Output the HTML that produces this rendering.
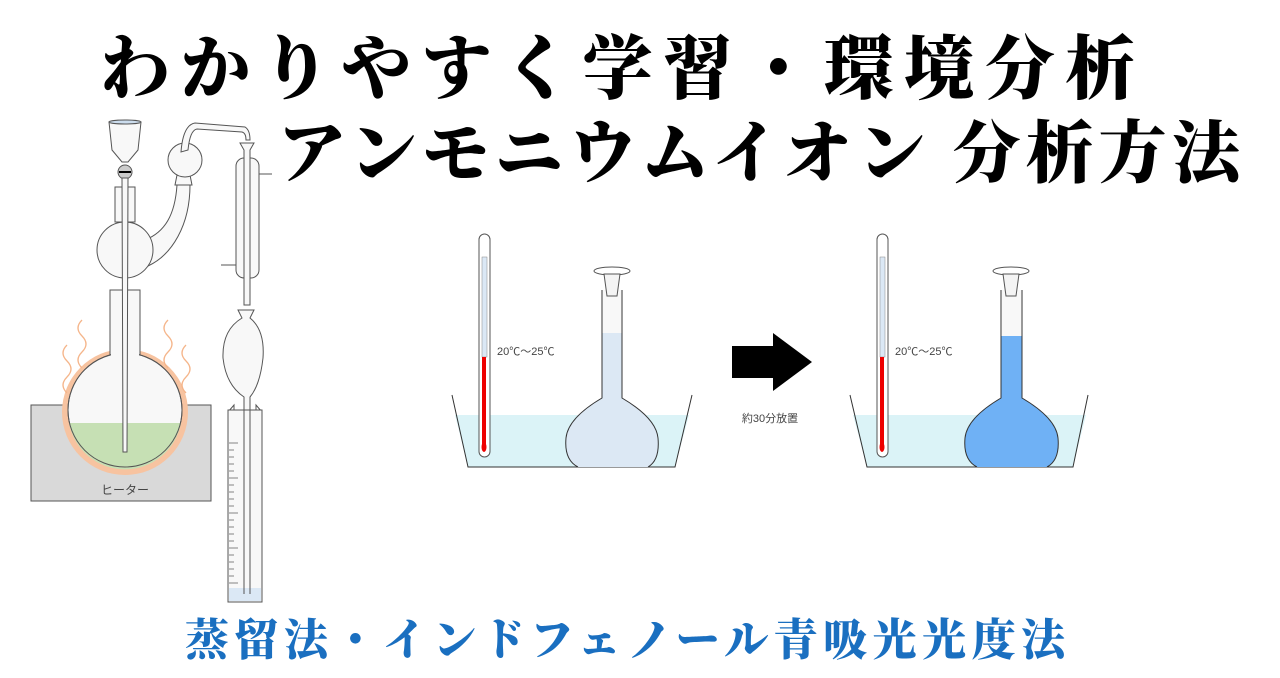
<!DOCTYPE html>
<html><head><meta charset="utf-8"><style>
html,body{margin:0;padding:0;background:#fff;width:1280px;height:678px;overflow:hidden}
</style></head><body>
<svg width="1280" height="678" viewBox="0 0 1280 678" xmlns="http://www.w3.org/2000/svg">
<g font-family="'Noto Serif CJK JP','Noto Sans CJK JP',serif" font-weight="900" fill="#000">
<text x="100" y="93" font-size="70" textLength="1035" lengthAdjust="spacing">わかりやすく学習・環境分析</text>
<text x="278" y="177" font-size="68" textLength="962" lengthAdjust="spacing">アンモニウムイオン 分析方法</text>
<text x="185" y="655" font-size="44" fill="#1a6fc0" textLength="880" lengthAdjust="spacing">蒸留法・インドフェノール青吸光光度法</text>
</g>

<!-- distillation apparatus -->
<g stroke="#555" stroke-width="1" fill="#f8f8f8">
<rect x="31" y="405" width="180" height="96" fill="#d9d9d9"/>
<circle cx="125" cy="412" r="63" fill="#f7c3a0" stroke="none"/>
<rect x="110" y="290" width="30" height="80"/>
<circle cx="125" cy="410" r="57"/>
<path d="M69 423 A57 57 0 0 0 181 423 Z" fill="#c6e0b4" stroke="none"/>
<circle cx="125" cy="410" r="57" fill="none"/>
<rect x="111" y="300" width="28" height="60" stroke="none"/>
<path d="M145 240 C165 232 175 215 177 185 L190 185 C190 225 172 255 148 266 Z"/>
<circle cx="125" cy="250" r="28"/>
<path d="M175 185 L177 175 L190 175 L192 185 Z"/>
<rect x="115" y="187" width="20" height="35"/>
<circle cx="185" cy="160" r="17"/>
<path d="M181 152 Q183 125 195 123 L245 127 Q250 130 250 140 L246 140 Q246 133 242 132 L197 129 Q190 130 188 150 Z"/>
<path d="M109 122 L141 122 L138 150 L128 162 L122 162 L112 150 Z"/>
<ellipse cx="125" cy="122" rx="16" ry="2" fill="#cde"/>
<circle cx="125" cy="172" r="7" fill="#ccc"/>
<line x1="119" y1="172" x2="131" y2="172" stroke="#000" stroke-width="2"/>
<path d="M122 178 L128 178 L127 452 L123 452 Z"/>
<rect x="236" y="158" width="23" height="120" rx="8"/>
<line x1="259" y1="174" x2="272" y2="174"/>
<line x1="221" y1="265" x2="236" y2="265"/>
<path d="M240 143 L254 143 L250 150 L250 305 L244 305 L244 150 Z"/>
<path d="M238 310 L254 310 L250 318 Q265 330 263 358 Q260 385 250 397 L250 594 L244 594 L244 397 Q226 385 223 358 Q222 330 242 318 Z"/>
<path d="M228 412 L234 405 L234 412 M262 412 L256 405 L256 412" fill="none"/>
<rect x="228" y="410" width="34" height="192"/>
<rect x="229" y="588" width="32" height="13" fill="#dbe8f5" stroke="none"/>
<line x1="244" y1="410" x2="244" y2="594"/><line x1="250" y1="410" x2="250" y2="594"/>
</g>
<g stroke="#666" stroke-width="0.8">
<line x1="229" y1="443" x2="238" y2="443"/><line x1="229" y1="450" x2="234" y2="450"/><line x1="229" y1="457" x2="234" y2="457"/><line x1="229" y1="464" x2="234" y2="464"/><line x1="229" y1="471" x2="234" y2="471"/><line x1="229" y1="478" x2="238" y2="478"/><line x1="229" y1="485" x2="234" y2="485"/><line x1="229" y1="492" x2="234" y2="492"/><line x1="229" y1="499" x2="234" y2="499"/><line x1="229" y1="506" x2="234" y2="506"/><line x1="229" y1="513" x2="238" y2="513"/><line x1="229" y1="520" x2="234" y2="520"/><line x1="229" y1="527" x2="234" y2="527"/><line x1="229" y1="534" x2="234" y2="534"/><line x1="229" y1="541" x2="234" y2="541"/><line x1="229" y1="548" x2="238" y2="548"/><line x1="229" y1="555" x2="234" y2="555"/><line x1="229" y1="562" x2="234" y2="562"/><line x1="229" y1="569" x2="234" y2="569"/><line x1="229" y1="576" x2="234" y2="576"/><line x1="229" y1="583" x2="238" y2="583"/>
</g>
<g fill="none" stroke="#f5b58a" stroke-width="1.3">
<path d="M67 345 q-8 8 0 16 q8 8 0 16 q-8 8 0 16"/>
<path d="M82 320 q-8 8 0 16 q8 8 0 16 q-8 8 0 16"/>
<path d="M168 320 q-8 8 0 16 q8 8 0 16 q-8 8 0 16"/>
<path d="M186 345 q-8 8 0 16 q8 8 0 16 q-8 8 0 16"/>
</g>
<text x="125" y="494" font-family="'Liberation Sans','Noto Sans CJK JP',sans-serif" font-size="12" fill="#444" text-anchor="middle">ヒーター</text>

<!-- left beaker -->
<path d="M455 415 L689 415 L675 467 L468 467 Z" fill="#dbf3f7"/>
<path d="M452 395 L468 467 L675 467 L692 395" fill="none" stroke="#333"/>
<rect x="479" y="234" width="11" height="223" rx="5.5" fill="#fff" stroke="#555"/>
<rect x="482" y="257" width="5" height="100" fill="#dbe8f5" stroke="#888" stroke-width="0.5"/>
<rect x="482" y="357" width="4" height="92" fill="#e00"/>
<ellipse cx="484" cy="447" rx="2.5" ry="5" fill="#e00"/>
<text x="497" y="355" font-family="'Liberation Sans','Noto Sans CJK JP',sans-serif" font-size="11" fill="#444">20℃～25℃</text>
<path d="M602 333 L602 398 Q568 418 566 438 Q564 460 578 467 L648 467 Q660 460 658 438 Q656 418 622 398 L622 333 Z" fill="#dce8f4"/>
<rect x="603" y="290" width="18" height="43" fill="#f8f8f8"/>
<path d="M602 290 L602 398 Q568 418 566 438 Q564 460 578 467 M622 290 L622 398 Q656 418 658 438 Q660 460 648 467" fill="none" stroke="#333"/>
<ellipse cx="612" cy="271" rx="18" ry="4" fill="#fff" stroke="#555"/>
<path d="M604 274 L620 274 L617 296 L607 296 Z" fill="#f4f4f4" stroke="#555"/>

<!-- arrow -->
<path d="M732 346 L773 346 L773 333 L812 362 L773 391 L773 378 L732 378 Z" fill="#000"/>
<text x="770" y="422" font-family="'Liberation Sans','Noto Sans CJK JP',sans-serif" font-size="11" fill="#444" text-anchor="middle">約30分放置</text>

<!-- right beaker -->
<path d="M853 415 L1086 415 L1073 467 L867 467 Z" fill="#dbf3f7"/>
<path d="M850 395 L867 467 L1073 467 L1088 395" fill="none" stroke="#333"/>
<rect x="877" y="234" width="11" height="223" rx="5.5" fill="#fff" stroke="#555"/>
<rect x="880" y="257" width="5" height="100" fill="#dbe8f5" stroke="#888" stroke-width="0.5"/>
<rect x="880" y="357" width="4" height="92" fill="#e00"/>
<ellipse cx="882" cy="447" rx="2.5" ry="5" fill="#e00"/>
<text x="895" y="355" font-family="'Liberation Sans','Noto Sans CJK JP',sans-serif" font-size="11" fill="#444">20℃～25℃</text>
<path d="M1001 336 L1001 398 Q967 418 965 438 Q963 460 977 467 L1047 467 Q1060 460 1058 438 Q1056 418 1022 398 L1022 336 Z" fill="#6fb1f5"/>
<rect x="1002" y="290" width="19" height="46" fill="#f8f8f8"/>
<path d="M1001 290 L1001 398 Q967 418 965 438 Q963 460 977 467 M1022 290 L1022 398 Q1056 418 1058 438 Q1060 460 1047 467" fill="none" stroke="#333"/>
<ellipse cx="1011" cy="271" rx="18" ry="4" fill="#fff" stroke="#555"/>
<path d="M1003 274 L1019 274 L1016 296 L1006 296 Z" fill="#f4f4f4" stroke="#555"/>
</svg>
</body></html>
